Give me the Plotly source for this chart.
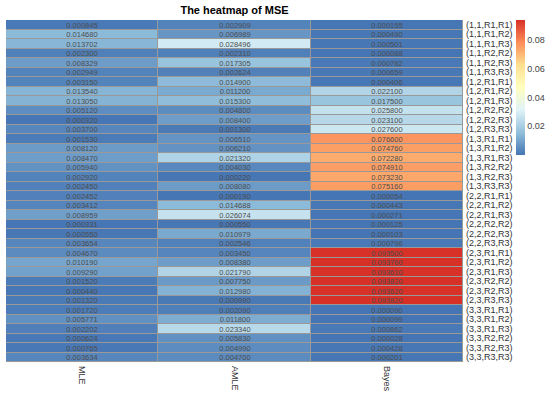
import plotly.graph_objects as go

methods = ["MLE", "AMLE", "Bayes"]
rows = [
    "(1,1,R1,R1)", "(1,1,R1,R2)", "(1,1,R1,R3)", "(1,1,R2,R2)", "(1,1,R2,R3)", "(1,1,R3,R3)",
    "(1,2,R1,R1)", "(1,2,R1,R2)", "(1,2,R1,R3)", "(1,2,R2,R2)", "(1,2,R2,R3)", "(1,2,R3,R3)",
    "(1,3,R1,R1)", "(1,3,R1,R2)", "(1,3,R1,R3)", "(1,3,R2,R2)", "(1,3,R2,R3)", "(1,3,R3,R3)",
    "(2,2,R1,R1)", "(2,2,R1,R2)", "(2,2,R1,R3)", "(2,2,R2,R2)", "(2,2,R2,R3)", "(2,2,R3,R3)",
    "(2,3,R1,R1)", "(2,3,R1,R2)", "(2,3,R1,R3)", "(2,3,R2,R2)", "(2,3,R2,R3)", "(2,3,R3,R3)",
    "(3,3,R1,R1)", "(3,3,R1,R2)", "(3,3,R1,R3)", "(3,3,R2,R2)", "(3,3,R2,R3)", "(3,3,R3,R3)",
]

mle = [0.000845, 0.014680, 0.013702, 0.002300, 0.008329, 0.002949,
       0.003150, 0.013540, 0.013050, 0.005120, 0.000320, 0.003700,
       0.001530, 0.008120, 0.008470, 0.005940, 0.002920, 0.002450,
       0.002452, 0.003412, 0.008959, 0.000331, 0.000550, 0.003654,
       0.004670, 0.010190, 0.009290, 0.001520, 0.000440, 0.001320,
       0.001720, 0.005771, 0.002202, 0.000624, 0.000765, 0.003634]
amle = [0.002909, 0.006989, 0.028496, 0.002310, 0.017305, 0.002624,
        0.014900, 0.011200, 0.015300, 0.004800, 0.008400, 0.001300,
        0.006510, 0.006210, 0.021320, 0.004030, 0.000220, 0.008080,
        0.000190, 0.014688, 0.026074, 0.000550, 0.010979, 0.002546,
        0.003450, 0.008380, 0.021790, 0.007750, 0.012980, 0.000990,
        0.002090, 0.011800, 0.023340, 0.005830, 0.004990, 0.004700]
bayes = [0.000155, 0.000490, 0.000501, 0.000088, 0.000782, 0.000659,
         0.000406, 0.022100, 0.017500, 0.025800, 0.023100, 0.027600,
         0.076600, 0.074760, 0.072280, 0.074910, 0.073230, 0.075160,
         0.000054, 0.000443, 0.000271, 0.000125, 0.000103, 0.000796,
         0.093500, 0.093760, 0.093610, 0.093820, 0.093620, 0.093820,
         0.000090, 0.000099, 0.000862, 0.000028, 0.000428, 0.000201]

colorbar_ticks = [0.02, 0.04, 0.06, 0.08]

z = [[a, b, c] for a, b, c in zip(mle, amle, bayes)]
text = [["%.6f" % v for v in r] for r in z]
allv = mle + amle + bayes

pal = ["#4575B4", "#91BFDB", "#E0F3F8", "#FFFFBF", "#FEE090", "#FC8D59", "#D73027"]
cscale = [[i / (len(pal) - 1), c] for i, c in enumerate(pal)]

W, H = 550, 397
L, R, T, B = 6, 87, 20, 35
pw = W - L - R

fig = go.Figure(go.Heatmap(
    z=z, x=methods, y=rows, text=text, texttemplate="%{text}",
    textfont=dict(size=7.5, color="#4d4d4d", family="Liberation Sans, Arial, sans-serif"),
    colorscale=cscale, zmin=min(allv), zmax=max(allv),
    xgap=1, ygap=1,
    colorbar=dict(
        thickness=9, len=135, lenmode="pixels",
        x=(516 - L) / pw, xanchor="left", y=1, yanchor="top",
        outlinewidth=0, ticks="", tickvals=colorbar_ticks,
        ticktext=["%.2f" % t for t in colorbar_ticks],
        tickfont=dict(size=9, color="#444444"), ypad=0, xpad=0,
    ),
))

fig.update_layout(
    width=W, height=H,
    margin=dict(l=L, r=R, t=T, b=B, autoexpand=False),
    paper_bgcolor="white", plot_bgcolor="#999999",
    font=dict(family="Liberation Sans, Arial, sans-serif", color="#222222"),
    title=dict(text="<b>The heatmap of MSE</b>", x=(L + pw / 2) / W, xanchor="center",
               y=1 - 10 / H, yanchor="middle", font=dict(size=11, color="#000000")),
)
fig.update_xaxes(tickangle=90, tickfont=dict(size=9, color="#333333"), showgrid=False,
                 zeroline=False, ticks="", ticklabelstandoff=3, automargin=False)
fig.update_yaxes(side="right", autorange="reversed", tickfont=dict(size=9, color="#333333"),
                 tickmode="array", tickvals=rows, ticktext=rows,
                 showgrid=False, zeroline=False, ticks="", ticklabelstandoff=2, automargin=False)

fig.write_html("out.html", config={"displayModeBar": False},
               post_script="document.body.style.margin='0';")
